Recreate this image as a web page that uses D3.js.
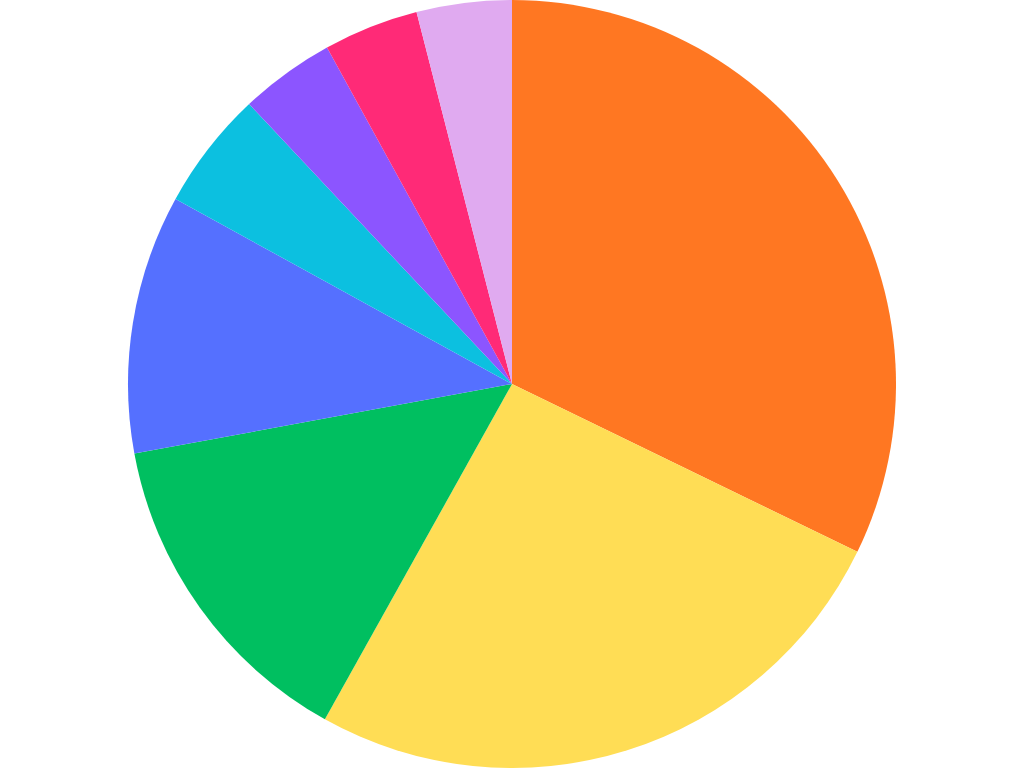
<!DOCTYPE html>
<html>
<head>
<meta charset="utf-8">
<script src="https://cdn.jsdelivr.net/npm/d3@7"></script>
<style>
  html, body { margin: 0; padding: 0; background: #fff; }
  svg { display: block; }
</style>
</head>
<body>
<svg width="1024" height="768"></svg>
<script>
// slice values, clockwise from 12 o'clock
const categories = ['A', 'B', 'C', 'D', 'E', 'F', 'G', 'H']
const values = [32.2, 25.9, 14.0, 10.9, 5.0, 4.0, 4.0, 4.0]
const colors = ['#FF7722', '#FFDD55', '#00BF60', '#5570FF', '#0CC0E0', '#8C55FF', '#FF2A77', '#E0AAF0']

const width = 1024
const height = 768
const radius = 384

const svg = d3.select('svg')
const g = svg.append('g').attr('transform', `translate(${width / 2},${height / 2})`)

const color = d3.scaleOrdinal().domain(categories).range(colors)

const pie = d3.pie().sort(null).value((d, i) => values[i])
const arc = d3.arc().innerRadius(0).outerRadius(radius)

g.selectAll('path')
  .data(pie(categories))
  .enter()
  .append('path')
  .attr('d', arc)
  .attr('fill', (d) => color(d.data))
</script>
</body>
</html>
